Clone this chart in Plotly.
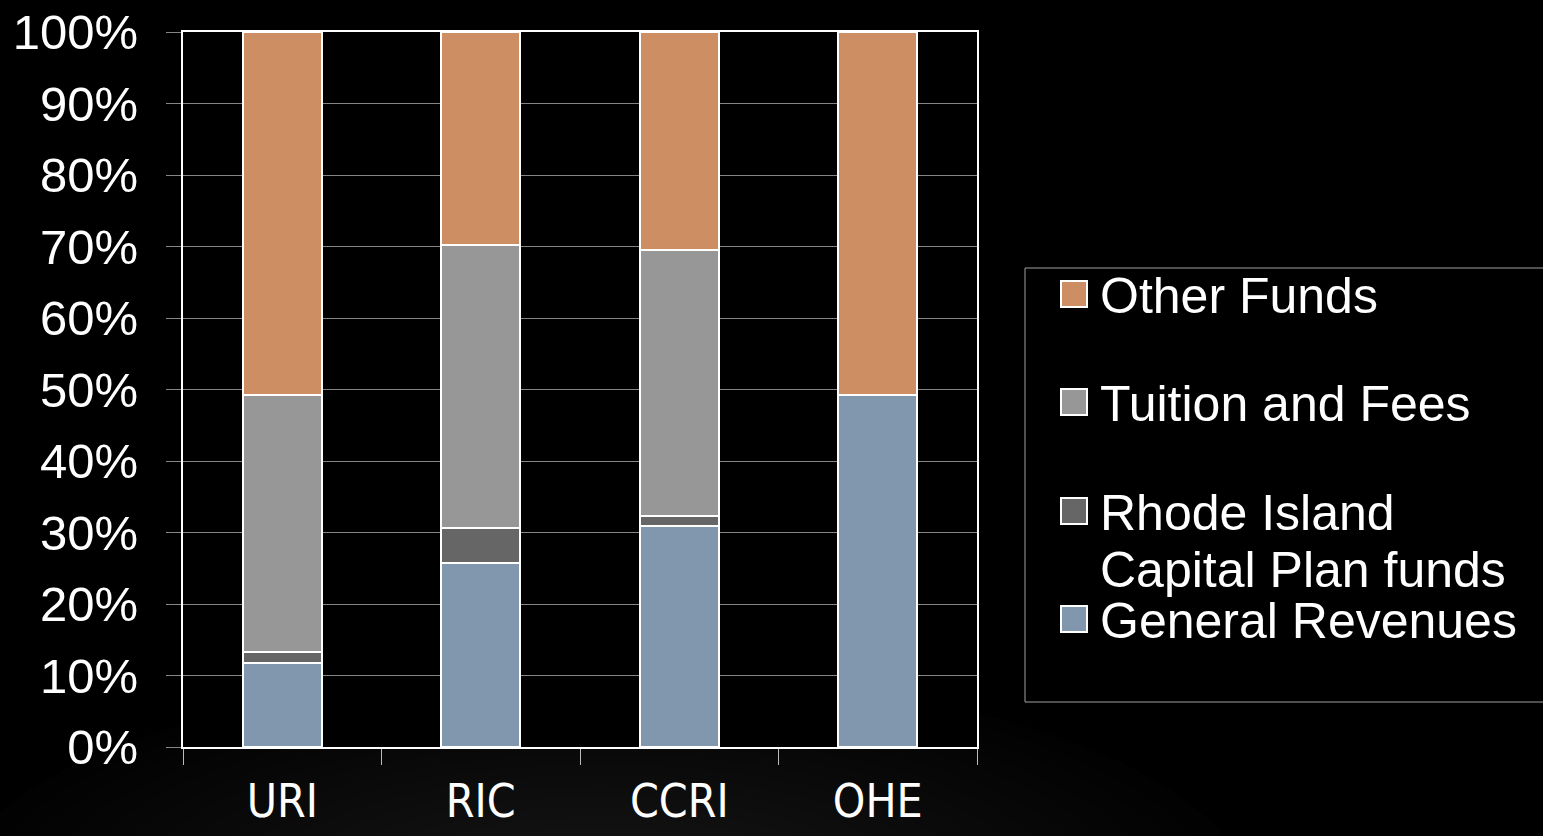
import plotly.graph_objects as go

categories = ["URI", "RIC", "CCRI", "OHE"]
general_revenues = [11.7, 25.7, 30.9, 49.2]
capital_plan = [1.6, 4.9, 1.4, 0.0]
tuition_fees = [35.9, 39.6, 37.2, 0.0]
other_funds = [50.8, 29.8, 30.5, 50.8]
y_tick_values = [0, 10, 20, 30, 40, 50, 60, 70, 80, 90, 100]
y_tick_labels = ["0%", "10%", "20%", "30%", "40%", "50%", "60%", "70%", "80%", "90%", "100%"]

W, H = 1543, 836
L, R, T, B = 183, 977, 32, 747


def px(x):
    return (x - L) / (R - L)


def py(y):
    return (B - y) / (B - T)


series = [
    ("General Revenues", general_revenues, "#8197AE"),
    ("Rhode Island<br>Capital Plan funds", capital_plan, "#666666"),
    ("Tuition and Fees", tuition_fees, "#979797"),
    ("Other Funds", other_funds, "#CC8E62"),
]

fig = go.Figure()
for name, vals, color in series:
    fig.add_trace(go.Bar(
        x=categories, y=vals, name=name,
        marker=dict(color=color, line=dict(color="#FFFFFF", width=2)),
        width=0.4, showlegend=False,
    ))

shapes = []
annotations = []
# soft glow at bottom of the slide background
n = 22
for i in range(n):
    f = 1 - i / n
    rx, ry = 650 * f, 230 * f
    cx, cy = 600, 900
    shapes.append(dict(type="circle", xref="paper", yref="paper", layer="below",
                       x0=px(cx - rx), x1=px(cx + rx), y0=py(cy + ry), y1=py(cy - ry),
                       fillcolor="#FFFFFF", opacity=0.009, line=dict(width=0)))
shapes.append(dict(type="rect", xref="paper", yref="paper", layer="below",
                   x0=0, x1=1, y0=0, y1=1, fillcolor="#000000", line=dict(width=0)))

# legend (top entry = last stacked series)
shapes.append(dict(type="rect", xref="paper", yref="paper",
                   x0=px(1025), x1=px(1560), y0=py(702), y1=py(268),
                   line=dict(color="#A0A0A0", width=1), fillcolor="rgba(0,0,0,0)"))
item_y = [294, 402, 511, 619]
line_gap = 57
for (name, vals, color), yc in zip(reversed(series), item_y):
    shapes.append(dict(type="rect", xref="paper", yref="paper",
                       x0=px(1061), x1=px(1087), y0=py(yc + 13), y1=py(yc - 13),
                       fillcolor=color, line=dict(color="#FFFFFF", width=2)))
    for k, part in enumerate(name.split("<br>")):
        annotations.append(dict(xref="paper", yref="paper", x=px(1098), y=py(yc + k * line_gap + 2),
                                xanchor="left", yanchor="middle", showarrow=False, text=part,
                                font=dict(size=50, color="#FFFFFF",
                                          family="Liberation Sans, Arial, sans-serif")))

fig.update_layout(
    width=W, height=H,
    barmode="stack",
    paper_bgcolor="#000000",
    plot_bgcolor="#000000",
    margin=dict(l=L, r=W - R, t=T, b=H - B, pad=0, autoexpand=False),
    font=dict(family="Liberation Sans, Arial, sans-serif", color="#FFFFFF"),
    shapes=shapes,
    annotations=annotations,
    showlegend=False,
    xaxis=dict(
        type="category", tickson="boundaries", showgrid=False, automargin=False,
        ticks="outside", ticklen=16, tickcolor="#BBBBBB", tickwidth=1,
        showline=True, linecolor="#FFFFFF", linewidth=2, mirror=True,
        tickfont=dict(family="Liberation Sans Narrow, DejaVu Sans Condensed, sans-serif",
                      size=46, color="#FFFFFF"),
        ticklabelstandoff=13,
    ),
    yaxis=dict(
        range=[0, 100], tickvals=y_tick_values, ticktext=y_tick_labels, automargin=False,
        showgrid=True, gridcolor="#858585", gridwidth=1,
        ticks="outside", ticklen=15, tickcolor="#858585", tickwidth=1,
        showline=True, linecolor="#FFFFFF", linewidth=2, mirror=True,
        tickfont=dict(size=49, color="#FFFFFF"),
        ticklabelstandoff=18, zeroline=False,
    ),
)

fig.write_html("out.html", config={"displayModeBar": False},
               post_script="document.body.style.margin='0';document.body.style.background='#000';document.body.style.overflow='hidden';")
